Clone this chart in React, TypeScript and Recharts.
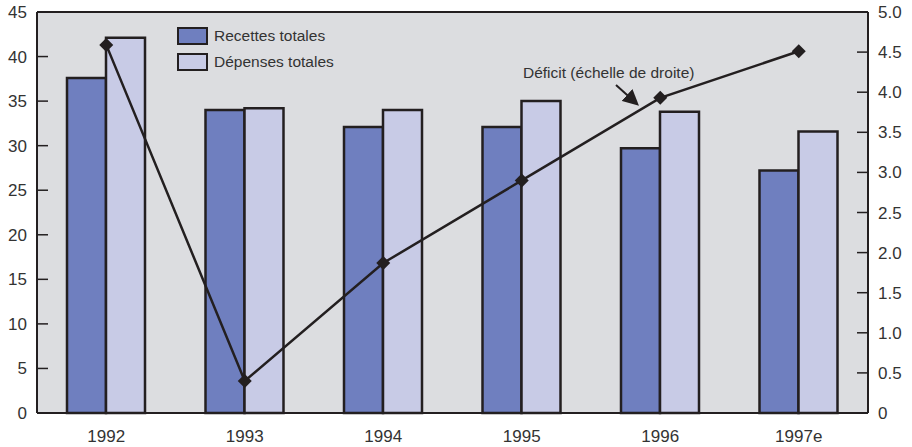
import React from "react";
import {
  ComposedChart,
  Bar,
  Line,
  XAxis,
  YAxis,
  CartesianGrid,
  Legend,
  ReferenceLine,
} from "recharts";

const years = ["1992", "1993", "1994", "1995", "1996", "1997e"];
const recettes = [37.6, 34.0, 32.1, 32.1, 29.7, 27.2];
const depenses = [42.1, 34.2, 34.0, 35.0, 33.8, 31.6];
const deficit = [4.59, 0.4, 1.87, 2.9, 3.93, 4.51];

const leftTicks = [0, 5, 10, 15, 20, 25, 30, 35, 40, 45];
const rightTicks = [0, 0.5, 1, 1.5, 2, 2.5, 3, 3.5, 4, 4.5, 5];

const data = years.map((year, i) => ({
  year,
  recettes: recettes[i],
  depenses: depenses[i],
  deficit: deficit[i],
}));

const FONT = "'Liberation Sans', Arial, sans-serif";
const TEXT = "#333333";
const INK = "#231f20";
const DARK = "#6f7fbf";
const LIGHT = "#c8cbe6";

const LeftTick = (props: any) => {
  const { x, y, payload } = props;
  return (
    <g>
      <line x1={x + 10} y1={y} x2={x + 21} y2={y} stroke={INK} strokeWidth={1.5} />
      <text x={x} y={y} dy={6} textAnchor="end" fill={TEXT} fontSize={17} fontFamily={FONT}>
        {payload.value}
      </text>
    </g>
  );
};

const RightTick = (props: any) => {
  const { x, y, payload } = props;
  const v = payload.value === 0 ? "0" : payload.value.toFixed(1);
  return (
    <g>
      <line x1={x - 10} y1={y} x2={x - 21} y2={y} stroke={INK} strokeWidth={1.5} />
      <text x={x} y={y} dy={6} textAnchor="start" fill={TEXT} fontSize={17} fontFamily={FONT}>
        {v}
      </text>
    </g>
  );
};

const Diamond = (props: any) => {
  const { cx, cy } = props;
  if (cx == null || cy == null) return null;
  const r = 7;
  return (
    <polygon
      points={`${cx},${cy - r} ${cx + r},${cy} ${cx},${cy + r} ${cx - r},${cy}`}
      fill={INK}
    />
  );
};

const LegendBox = () => (
  <div style={{ fontFamily: FONT, fontSize: 15.5, color: TEXT }}>
    {[
      { label: "Recettes totales", color: DARK },
      { label: "Dépenses totales", color: LIGHT },
    ].map((it) => (
      <div key={it.label} style={{ display: "flex", alignItems: "center", height: 26 }}>
        <span
          style={{
            display: "inline-block",
            width: 27,
            height: 14,
            background: it.color,
            border: `2px solid ${INK}`,
            marginRight: 6,
          }}
        />
        {it.label}
      </div>
    ))}
  </div>
);

export default function App() {
  return (
    <div style={{ position: "absolute", left: 0, top: 0, width: 912, height: 447, background: "#fff" }}>
      <ComposedChart
        width={912}
        height={447}
        data={data}
        margin={{ top: 12, right: 0, bottom: 0, left: 0 }}
        barGap={0}
        barCategoryGap="22%"
      >
        <CartesianGrid fill="#dcdde0" horizontal={false} vertical={false} />
        <XAxis
          dataKey="year"
          height={34}
          tickLine={false}
          tickSize={0}
          tickMargin={17}
          axisLine={{ stroke: INK, strokeWidth: 2 }}
          tick={{ fill: TEXT, fontSize: 17, fontFamily: FONT }}
        />
        <YAxis
          yAxisId="left"
          orientation="left"
          width={37}
          domain={[0, 45]}
          ticks={leftTicks}
          tickLine={false}
          tickSize={0}
          tickMargin={10}
          axisLine={{ stroke: INK, strokeWidth: 2 }}
          tick={<LeftTick />}
          interval={0}
        />
        <YAxis
          yAxisId="right"
          orientation="right"
          width={44}
          domain={[0, 5]}
          ticks={rightTicks}
          tickLine={false}
          tickSize={0}
          tickMargin={10}
          axisLine={{ stroke: INK, strokeWidth: 2 }}
          tick={<RightTick />}
          interval={0}
        />
        <ReferenceLine yAxisId="left" y={45} stroke={INK} strokeWidth={2} />
        <Legend
          layout="horizontal"
          verticalAlign="middle"
          align="center"
          content={<LegendBox />}
          wrapperStyle={{ left: 177, top: 23, width: 200 }}
        />
        <Bar
          yAxisId="left"
          dataKey="recettes"
          fill={DARK}
          stroke={INK}
          strokeWidth={2.5}
          barSize={39}
          isAnimationActive={false}
        />
        <Bar
          yAxisId="left"
          dataKey="depenses"
          fill={LIGHT}
          stroke={INK}
          strokeWidth={2.5}
          barSize={39}
          isAnimationActive={false}
        />
        <Line
          yAxisId="right"
          dataKey="deficit"
          stroke={INK}
          strokeWidth={2.5}
          dot={<Diamond />}
          activeDot={false}
          isAnimationActive={false}
        />
      </ComposedChart>
      <svg
        width={912}
        height={447}
        style={{ position: "absolute", left: 0, top: 0, pointerEvents: "none" }}
      >
        <defs>
          <marker id="arrow" markerWidth="8" markerHeight="8" refX="6" refY="4" orient="auto">
            <path d="M0,0 L8,4 L0,8 z" fill={INK} />
          </marker>
        </defs>
        <text x={523} y={78} fill={TEXT} fontSize={15.5} fontFamily={FONT}>
          Déficit (échelle de droite)
        </text>
        <line
          x1={616}
          y1={85}
          x2={636}
          y2={103}
          stroke={INK}
          strokeWidth={2}
          markerEnd="url(#arrow)"
        />
      </svg>
    </div>
  );
}
